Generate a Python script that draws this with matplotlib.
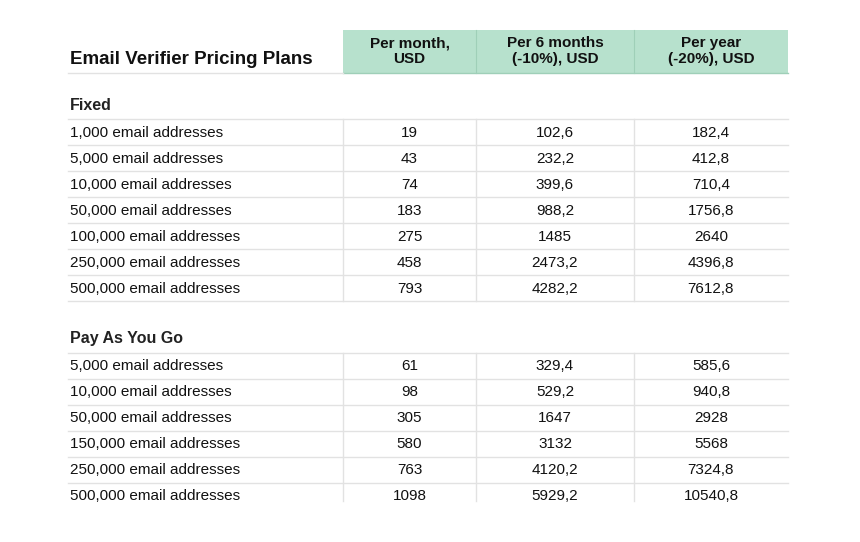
import matplotlib
matplotlib.use("Agg")
import matplotlib.pyplot as plt
from matplotlib.patches import Rectangle

title = "Email Verifier Pricing Plans"
col_headers = ["Per month,\nUSD", "Per 6 months\n(-10%), USD", "Per year\n(-20%), USD"]
fixed_labels = ["1,000 email addresses", "5,000 email addresses", "10,000 email addresses",
                "50,000 email addresses", "100,000 email addresses", "250,000 email addresses",
                "500,000 email addresses"]
fixed_month = ["19", "43", "74", "183", "275", "458", "793"]
fixed_6m = ["102,6", "232,2", "399,6", "988,2", "1485", "2473,2", "4282,2"]
fixed_year = ["182,4", "412,8", "710,4", "1756,8", "2640", "4396,8", "7612,8"]
payg_labels = ["5,000 email addresses", "10,000 email addresses", "50,000 email addresses",
               "150,000 email addresses", "250,000 email addresses", "500,000 email addresses"]
payg_month = ["61", "98", "305", "580", "763", "1098"]
payg_6m = ["329,4", "529,2", "1647", "3132", "4120,2", "5929,2"]
payg_year = ["585,6", "940,8", "2928", "5568", "7324,8", "10540,8"]

fig = plt.figure(figsize=(8.6, 5.42), dpi=100)
ax = fig.add_axes([0, 0, 1, 1])
ax.set_xlim(0, 860); ax.set_ylim(542, 0); ax.axis("off")
FONT = "Liberation Sans"
GRID = "#e2e2e2"
xs = [68, 343, 476, 634, 788]
centers = [(xs[i] + xs[i+1]) / 2 for i in range(1, 4)]

# header
ax.add_patch(Rectangle((343, 30), 788 - 343, 43, color="#b7e1cd", lw=0))
for x in xs[2:4]:
    ax.plot([x, x], [30, 73], color="#9fcfb8", lw=0.8)
ax.plot([343, 788], [73, 73], color="#9fcfb8", lw=1.0)
ax.plot([68, 343], [73, 73], color=GRID, lw=1.0)
ax.text(70, 60, title, fontsize=13.5, fontweight="bold", family=FONT, va="center", color="#111")
for c, h in zip(centers, col_headers):
    ax.text(c, 51, h, fontsize=11, fontweight="bold", family=FONT, ha="center", va="center",
            color="#111", linespacing=1.15)

def section(name, ytitle, ytop, labels, m, s, y):
    ax.text(70, ytitle, name, fontsize=11.5, fontweight="bold", family=FONT, va="center", color="#222")
    n = len(labels)
    rh = 26
    for i in range(n + 1):
        yy = ytop + i * rh
        if i < n or name == "Fixed":
            ax.plot([68, 788], [yy, yy], color=GRID, lw=1.0)
    bottom = ytop + n * rh if name == "Fixed" else ytop + n * rh - 8
    for x in xs[1:4]:
        ax.plot([x, x], [ytop, bottom], color=GRID, lw=1.0)
    for i in range(n):
        yc = ytop + i * rh + rh / 2 + 1
        ax.text(70, yc, labels[i], fontsize=11, family=FONT, va="center", color="#111")
        for c, v in zip(centers, [m[i], s[i], y[i]]):
            ax.text(c, yc, v, fontsize=11, family=FONT, ha="center", va="center", color="#111")

section("Fixed", 105, 119, fixed_labels, fixed_month, fixed_6m, fixed_year)
section("Pay As You Go", 339, 352.5, payg_labels, payg_month, payg_6m, payg_year)

fig.savefig("out.png", dpi=100, facecolor="white")
